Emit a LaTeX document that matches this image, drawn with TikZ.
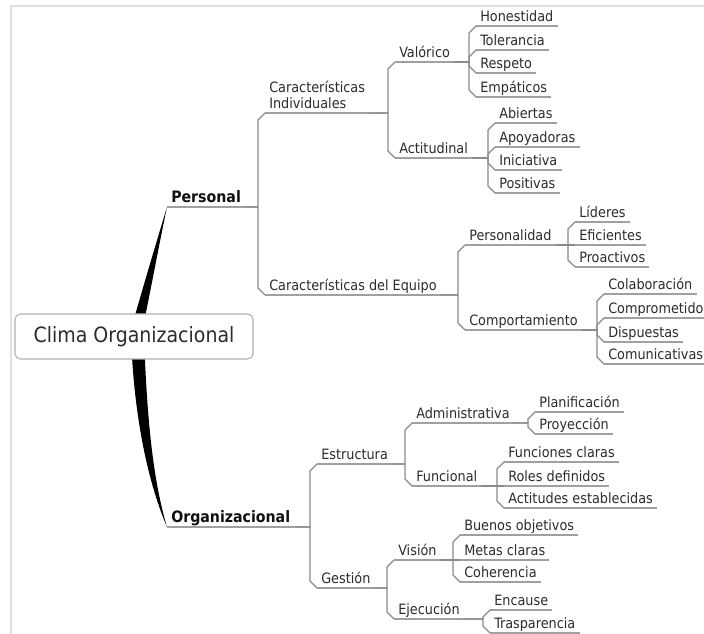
\documentclass[tikz,border=0pt]{standalone}
\usepackage{fontspec}
\setmainfont{DejaVu Sans Condensed}
\usetikzlibrary{calc,backgrounds}

\definecolor{inkmain}{HTML}{2C2C2C}
\definecolor{inkbold}{HTML}{101010}
\definecolor{ruleline}{HTML}{A0A0A0}
\definecolor{linkline}{HTML}{8A8A8A}
\definecolor{framegray}{HTML}{E0E0E0}
\definecolor{boxedge}{HTML}{B0B0B0}

% connector from the end of a parent's underline to the start of a child's
% #3: -1 child above, +1 child below, 0 same level
\newcommand\linkto[3]{%
  \path ($(#2.south west)+(-7,0)$) coordinate (vtx);
  \draw[link] (#1.south east) -- (vtx |- #1.south east)
    -- ($(vtx)+(0,{-7*(#3)})$) -- (#2.south west);
}

\begin{document}
\begin{tikzpicture}[x=0.75pt,y=-0.75pt,
  topicbase/.style={anchor=south west, inner xsep=3pt, inner ysep=3pt,
    text=inkmain, font=\fontsize{10.7}{12}\selectfont},
  topic/.style={topicbase, text depth=0pt},
  main/.style={topic, font=\bfseries\fontsize{11.8}{14}\selectfont,
    text=inkbold, inner ysep=3.5pt},
  rootbox/.style={draw=boxedge, fill=white, rounded corners=4pt,
    minimum width=178.5pt, minimum height=33.75pt, inner sep=0pt,
    text=inkmain, font=\fontsize{15.8}{18}\selectfont, line width=0.8pt},
  uline/.style={draw=ruleline, line width=0.9pt},
  link/.style={draw=linkline, line width=0.9pt},
  wedge/.style={fill=black}
]
\useasboundingbox (0,0) rectangle (704,634);

% central topic
\node[rootbox] (root) at (134,336.5) {Clima Organizacional};

% main branches
\node[main] (pers) at (167,207) {Personal};
\node[main] (org)  at (167,527) {Organizacional};

% second level
\node[topicbase, align=left] (carind) at (265,113) {Características\\Individuales};
\node[topic] (careq) at (265,295) {Características del Equipo};
\node[topic] (estr)  at (317,464) {Estructura};
\node[topic] (gest)  at (317,588) {Gestión};

% third level
\node[topic] (valo) at (395,62)  {Valórico};
\node[topic] (acti) at (395,158) {Actitudinal};
\node[topic] (pnld) at (465,245) {Personalidad};
\node[topic] (comp) at (465,330) {Comportamiento};
\node[topic] (admi) at (412,423) {Administrativa};
\node[topic] (func) at (412,486) {Funcional};
\node[topic] (visi) at (394,560) {Visión};
\node[topic] (ejec) at (394,619) {Ejecución};

% leaves
\node[topic] (hone) at (476,26)  {Honestidad};
\node[topic] (tole) at (476,50)  {Tolerancia};
\node[topic] (resp) at (476,73)  {Respeto};
\node[topic] (empa) at (476,97)  {Empáticos};

\node[topic] (abie) at (495,123) {Abiertas};
\node[topic] (apoy) at (495,147) {Apoyadoras};
\node[topic] (inic) at (495,170) {Iniciativa};
\node[topic] (posi) at (495,193) {Positivas};

\node[topic] (lide) at (575,222) {Líderes};
\node[topic] (efic) at (575,245) {Eficientes};
\node[topic] (proa) at (575,267) {Proactivos};

\node[topic] (cola) at (604,294) {Colaboración};
\node[topic] (cmpr) at (604,318) {Comprometido};
\node[topic] (disp) at (604,342) {Dispuestas};
\node[topic] (comu) at (604,364) {Comunicativas};

\node[topic] (plan) at (535,412) {Planificación};
\node[topic] (proy) at (535,434) {Proyección};

\node[topic] (fcla) at (504,462) {Funciones claras};
\node[topic] (rdef) at (504,486) {Roles definidos};
\node[topic] (aest) at (504,508) {Actitudes establecidas};

\node[topic] (bobj) at (460,535) {Buenos objetivos};
\node[topic] (mcla) at (460,560) {Metas claras};
\node[topic] (cohe) at (460,582) {Coherencia};

\node[topic] (enca) at (490,610) {Encause};
\node[topic] (tras) at (490,633) {Trasparencia};

% underlines
\foreach \n in {pers,org,carind,careq,estr,gest,valo,acti,pnld,comp,admi,func,
  visi,ejec,hone,tole,resp,empa,abie,apoy,inic,posi,lide,efic,proa,cola,cmpr,
  disp,comu,plan,proy,fcla,rdef,aest,bobj,mcla,cohe,enca,tras}
  \draw[uline] (\n.south west) -- (\n.south east);

% connectors
\linkto{pers}{carind}{-1}
\linkto{pers}{careq}{1}
\linkto{org}{estr}{-1}
\linkto{org}{gest}{1}

\linkto{carind}{valo}{-1}
\linkto{carind}{acti}{1}
\linkto{careq}{pnld}{-1}
\linkto{careq}{comp}{1}
\linkto{estr}{admi}{-1}
\linkto{estr}{func}{1}
\linkto{gest}{visi}{-1}
\linkto{gest}{ejec}{1}

\linkto{valo}{hone}{-1}
\linkto{valo}{tole}{-1}
\linkto{valo}{resp}{1}
\linkto{valo}{empa}{1}
\linkto{acti}{abie}{-1}
\linkto{acti}{apoy}{-1}
\linkto{acti}{inic}{1}
\linkto{acti}{posi}{1}
\linkto{pnld}{lide}{-1}
\linkto{pnld}{efic}{0}
\linkto{pnld}{proa}{1}
\linkto{comp}{cola}{-1}
\linkto{comp}{cmpr}{-1}
\linkto{comp}{disp}{1}
\linkto{comp}{comu}{1}
\linkto{admi}{plan}{-1}
\linkto{admi}{proy}{1}
\linkto{func}{fcla}{-1}
\linkto{func}{rdef}{0}
\linkto{func}{aest}{1}
\linkto{visi}{bobj}{-1}
\linkto{visi}{mcla}{0}
\linkto{visi}{cohe}{1}
\linkto{ejec}{enca}{-1}
\linkto{ejec}{tras}{1}

% page, frame and tapered main branches behind the central topic
\begin{pgfonlayer}{background}
  \fill[white] (0,0) rectangle (704,634);
  \draw[framegray, line width=1.5pt] (11,634) -- (11,6) -- (704,6);
  \fill[wedge] ($(root.center)+(-5,0)$) .. controls (141,294) and (154,250) .. (pers.south west)
    .. controls (158,250) and (150,294) .. ($(root.center)+(7,0)$) -- cycle;
  \fill[wedge] ($(root.center)+(-3,0)$) .. controls (134,420) and (149,485) .. (org.south west)
    .. controls (153,480) and (147,420) .. ($(root.center)+(10,0)$) -- cycle;
\end{pgfonlayer}
\end{tikzpicture}
\end{document}
